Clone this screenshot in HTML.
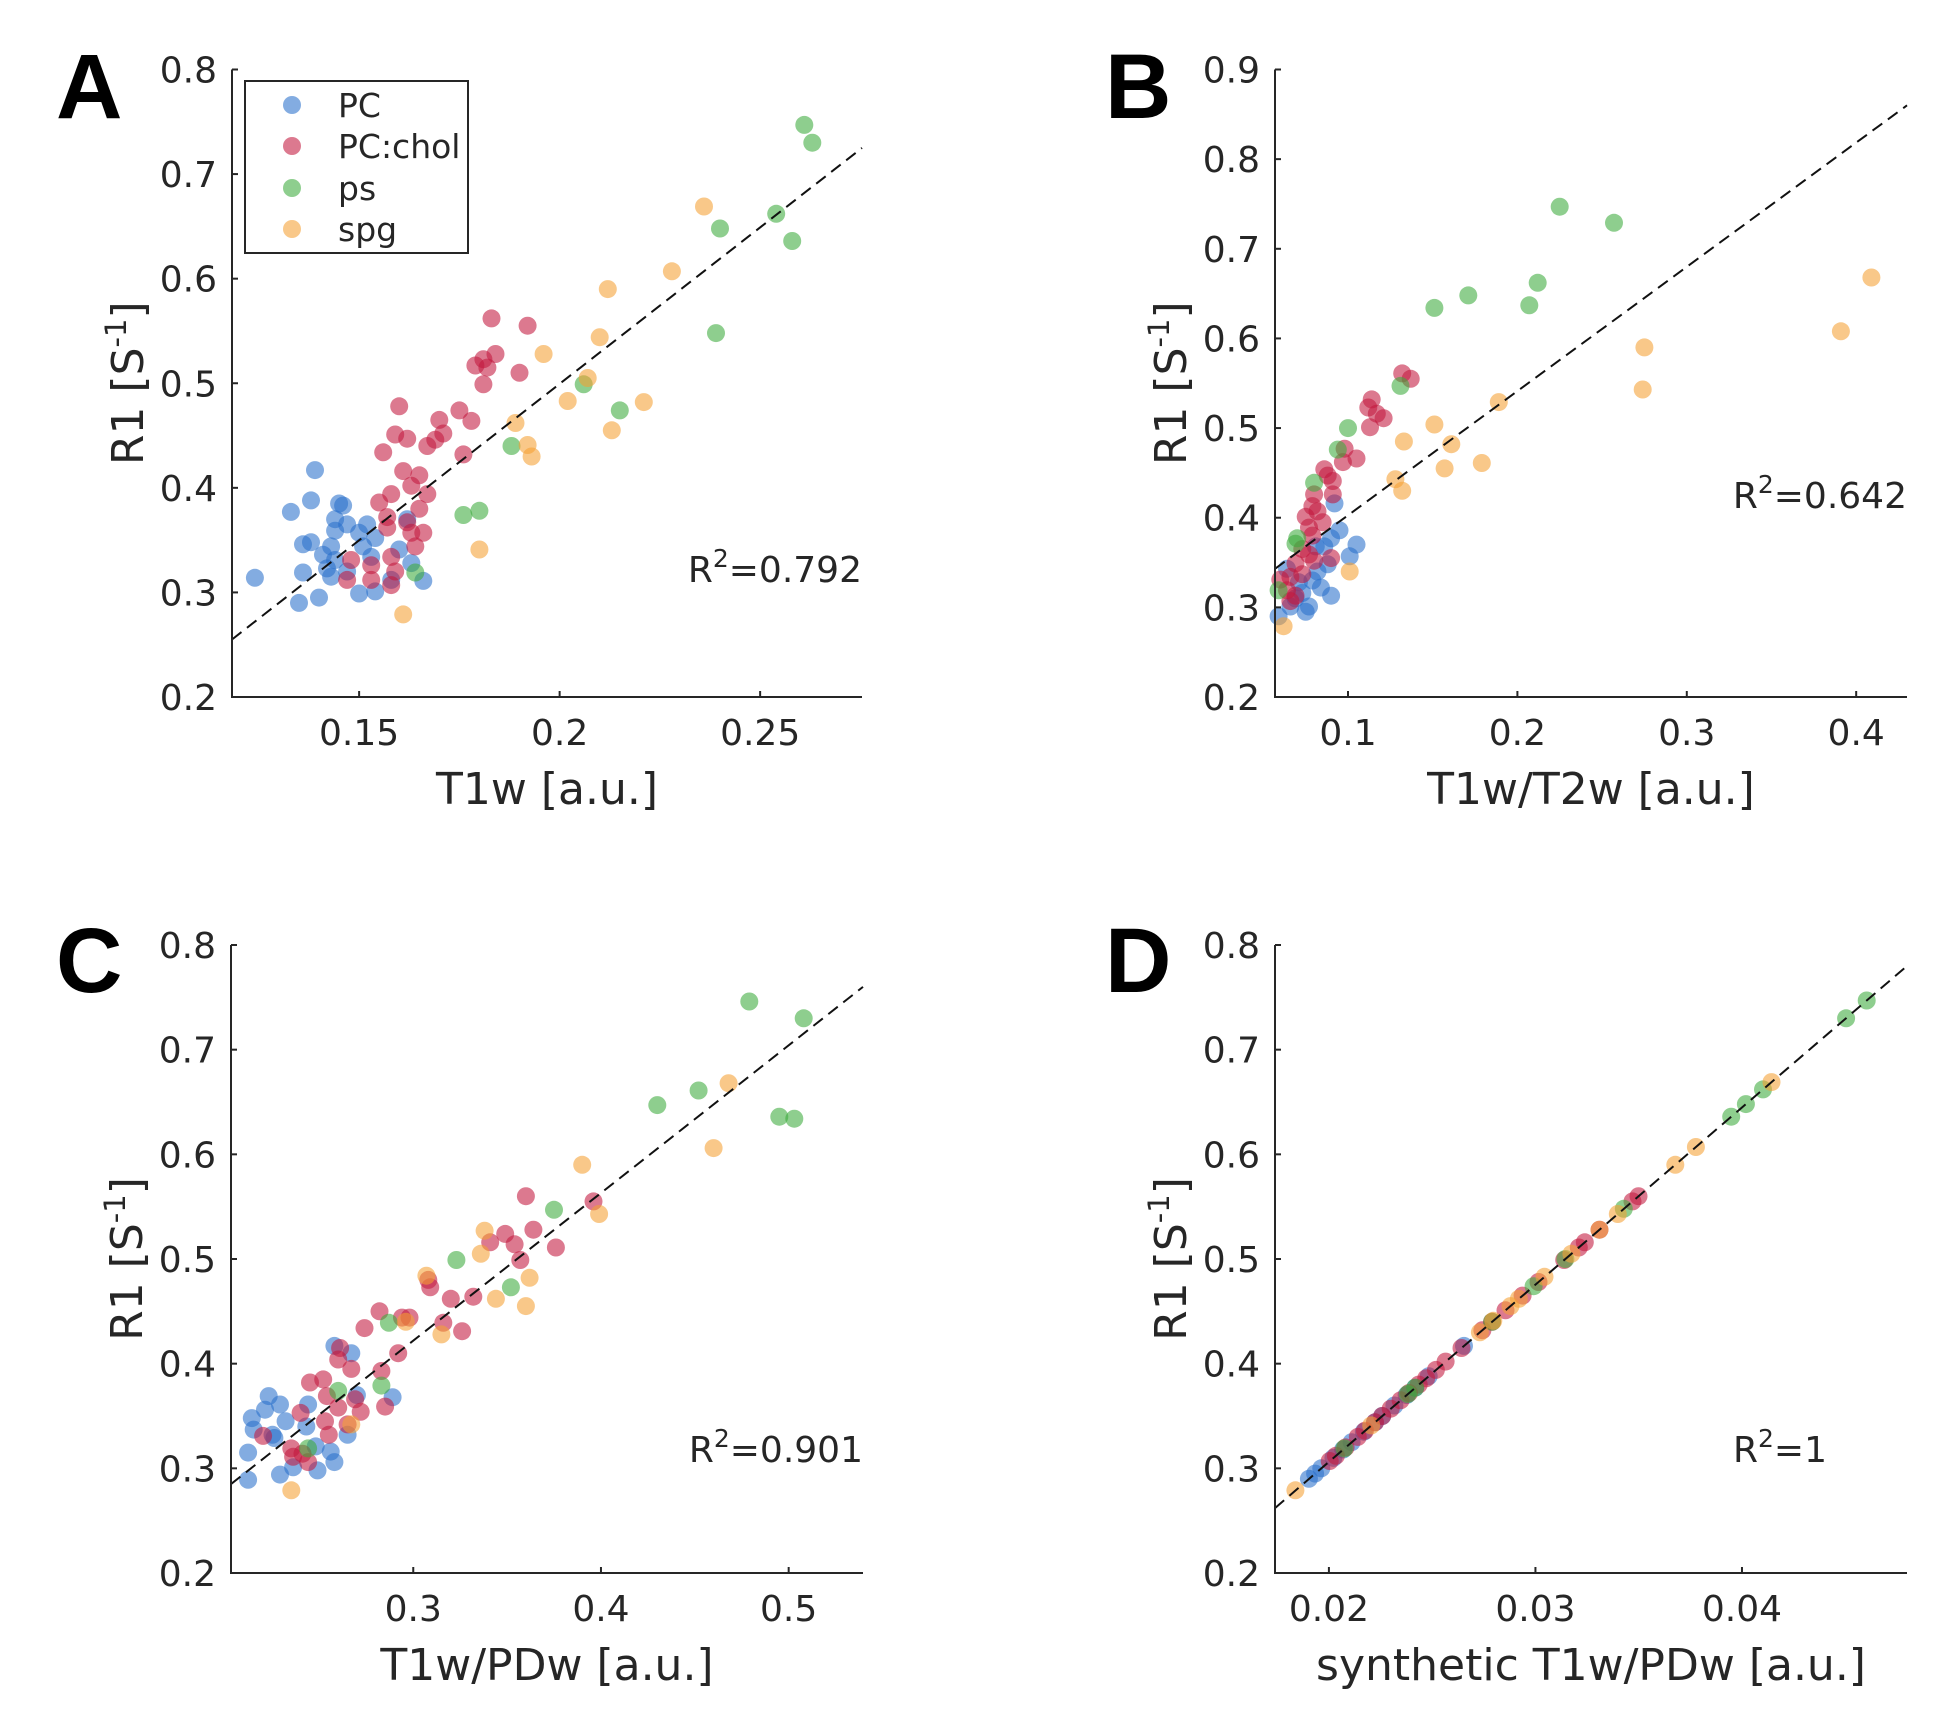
<!DOCTYPE html>
<html><head><meta charset="utf-8"><title>R1 scatter panels</title>
<style>
html,body{margin:0;padding:0;background:#fff;}
svg{display:block;}
text{font-family:"DejaVu Sans","Liberation Sans",sans-serif;fill:#262626;}
.lbl{font-family:"Liberation Sans",Arial,sans-serif;font-weight:bold;fill:#000;}
</style></head>
<body>
<svg id="fig" width="1947" height="1716" viewBox="0 0 1947 1716" xmlns="http://www.w3.org/2000/svg"></svg>
<script>
// ---------- Panel A data (T1w) ----------
const aPCx=[0.139,0.138,0.133,0.145,0.146,0.144,0.147,0.144,0.136,0.138,0.152,0.150,0.154,0.151,0.143,0.141,0.144,0.142,0.143,0.147,0.136,0.124,0.135,0.140,0.150,0.154,0.158,0.163,0.166,0.160,0.162,0.153];
const aPCy=[0.417,0.388,0.377,0.385,0.383,0.370,0.365,0.359,0.346,0.348,0.365,0.357,0.352,0.344,0.344,0.336,0.331,0.323,0.315,0.320,0.319,0.314,0.290,0.295,0.299,0.301,0.312,0.328,0.311,0.341,0.370,0.334];
const aCHx=[0.183,0.192,0.184,0.181,0.179,0.182,0.190,0.181,0.160,0.175,0.170,0.178,0.159,0.162,0.171,0.169,0.167,0.156,0.176,0.161,0.165,0.163,0.167,0.158,0.155,0.165,0.157,0.162,0.157,0.163,0.166,0.164,0.148,0.153,0.147,0.153,0.158,0.158,0.159];
const aCHy=[0.562,0.555,0.528,0.523,0.517,0.515,0.510,0.499,0.478,0.474,0.465,0.464,0.451,0.447,0.452,0.446,0.440,0.434,0.432,0.416,0.412,0.402,0.394,0.394,0.386,0.380,0.372,0.367,0.362,0.357,0.357,0.344,0.331,0.326,0.312,0.312,0.307,0.334,0.320];
const aPSx=[0.261,0.263,0.240,0.254,0.258,0.239,0.215,0.206,0.188,0.176,0.180,0.164];
const aPSy=[0.747,0.730,0.648,0.662,0.636,0.548,0.474,0.499,0.440,0.374,0.378,0.319];
const aSPx=[0.236,0.228,0.212,0.210,0.196,0.207,0.202,0.221,0.213,0.189,0.192,0.193,0.180,0.161];
const aSPy=[0.669,0.607,0.590,0.544,0.528,0.505,0.483,0.482,0.455,0.462,0.441,0.430,0.341,0.279];
const aFitX=[0.1183,0.2754];
const aFitY=[0.255,0.725];
const aXTicks=[0.15,0.2,0.25];
const aXTickLabels=["0.15","0.2","0.25"];
const aYTicks=[0.2,0.3,0.4,0.5,0.6,0.7,0.8];
const aYTickLabels=["0.2","0.3","0.4","0.5","0.6","0.7","0.8"];

// ---------- Panel B data (T1w/T2w) ----------
const bPCx=[0.092,0.095,0.090,0.105,0.101,0.088,0.082,0.079,0.084,0.090,0.073,0.069,0.066,0.059,0.077,0.071,0.064,0.081,0.086,0.075];
const bPCy=[0.416,0.386,0.377,0.370,0.357,0.348,0.340,0.330,0.322,0.313,0.316,0.310,0.301,0.290,0.301,0.328,0.343,0.368,0.368,0.295];
const bCHx=[0.132,0.137,0.114,0.112,0.117,0.121,0.113,0.098,0.105,0.097,0.086,0.091,0.088,0.080,0.091,0.079,0.082,0.075,0.085,0.077,0.079,0.073,0.077,0.069,0.090,0.066,0.060,0.064,0.069,0.066,0.073,0.080];
const bCHy=[0.561,0.555,0.532,0.523,0.516,0.511,0.501,0.477,0.466,0.462,0.454,0.441,0.447,0.426,0.426,0.413,0.407,0.401,0.395,0.389,0.380,0.365,0.359,0.349,0.355,0.334,0.331,0.319,0.313,0.307,0.337,0.352];
const bPSx=[0.225,0.257,0.212,0.207,0.171,0.151,0.131,0.100,0.094,0.080,0.070,0.069,0.059];
const bPSy=[0.747,0.729,0.662,0.637,0.648,0.634,0.547,0.500,0.476,0.439,0.377,0.371,0.319];
const bSPx=[0.409,0.391,0.275,0.274,0.189,0.151,0.133,0.161,0.179,0.157,0.128,0.132,0.101,0.062];
const bSPy=[0.668,0.608,0.590,0.543,0.529,0.504,0.485,0.482,0.461,0.455,0.443,0.430,0.340,0.279];
const bFitX=[0.0569,0.430];
const bFitY=[0.343,0.860];
const bXTicks=[0.1,0.2,0.3,0.4];
const bXTickLabels=["0.1","0.2","0.3","0.4"];
const bYTicks=[0.2,0.3,0.4,0.5,0.6,0.7,0.8,0.9];
const bYTickLabels=["0.2","0.3","0.4","0.5","0.6","0.7","0.8","0.9"];

// ---------- Panel C data (T1w/PDw) ----------
const cPCx=[0.258,0.223,0.229,0.221,0.214,0.232,0.215,0.225,0.244,0.243,0.248,0.256,0.258,0.212,0.212,0.229,0.236,0.249,0.265,0.270,0.289,0.267,0.226];
const cPCy=[0.417,0.369,0.361,0.356,0.348,0.345,0.337,0.332,0.361,0.340,0.321,0.316,0.306,0.315,0.289,0.294,0.301,0.298,0.332,0.370,0.368,0.410,0.329];
const cCHx=[0.360,0.396,0.364,0.349,0.341,0.354,0.376,0.357,0.308,0.309,0.320,0.332,0.282,0.294,0.298,0.316,0.274,0.326,0.292,0.261,0.260,0.267,0.283,0.252,0.245,0.254,0.269,0.260,0.272,0.285,0.253,0.265,0.220,0.240,0.235,0.241,0.236,0.244,0.255];
const cCHy=[0.560,0.555,0.528,0.524,0.516,0.514,0.511,0.499,0.480,0.473,0.462,0.464,0.450,0.444,0.444,0.439,0.434,0.431,0.410,0.415,0.404,0.395,0.393,0.385,0.382,0.369,0.366,0.358,0.354,0.359,0.345,0.342,0.331,0.353,0.319,0.314,0.311,0.306,0.332];
const cPSx=[0.479,0.508,0.452,0.430,0.495,0.503,0.375,0.323,0.352,0.287,0.260,0.283,0.244];
const cPSy=[0.746,0.730,0.661,0.647,0.636,0.634,0.547,0.499,0.473,0.439,0.374,0.379,0.319];
const cSPx=[0.468,0.460,0.390,0.399,0.338,0.336,0.307,0.362,0.344,0.360,0.296,0.315,0.267,0.235];
const cSPy=[0.668,0.606,0.590,0.543,0.527,0.505,0.484,0.482,0.462,0.455,0.440,0.428,0.342,0.279];
const cFitX=[0.2029,0.5396];
const cFitY=[0.285,0.760];
const cXTicks=[0.3,0.4,0.5];
const cXTickLabels=["0.3","0.4","0.5"];
const cYTicks=[0.2,0.3,0.4,0.5,0.6,0.7,0.8];
const cYTickLabels=["0.2","0.3","0.4","0.5","0.6","0.7","0.8"];

// ---------- Panel D data (synthetic T1w/PDw) ----------
const dPCx=[0.02654,0.02483,0.02418,0.02376,0.02317,0.02258,0.02223,0.02169,0.02110,0.02069,0.02022,0.01963,0.01933,0.01903];
const dPCy=[0.417,0.388,0.377,0.370,0.360,0.350,0.344,0.335,0.325,0.318,0.310,0.300,0.295,0.290];
const dCHx=[0.03499,0.03470,0.03310,0.03239,0.03210,0.03139,0.03015,0.02938,0.02855,0.02790,0.02743,0.02642,0.02565,0.02518,0.02471,0.02435,0.02388,0.02347,0.02299,0.02258,0.02223,0.02175,0.02140,0.02081,0.02034,0.02004];
const dCHy=[0.560,0.555,0.528,0.516,0.511,0.499,0.478,0.465,0.451,0.440,0.432,0.415,0.402,0.394,0.386,0.380,0.372,0.365,0.357,0.350,0.344,0.336,0.330,0.320,0.312,0.307];
const dPSx=[0.04604,0.04504,0.04102,0.04019,0.03948,0.03428,0.03145,0.02991,0.02790,0.02418,0.02382,0.02075];
const dPSy=[0.747,0.730,0.662,0.648,0.636,0.548,0.500,0.474,0.440,0.377,0.371,0.319];
const dSPx=[0.04143,0.03777,0.03677,0.03399,0.03310,0.03174,0.03044,0.02920,0.02879,0.02796,0.02731,0.02205,0.01838];
const dSPy=[0.669,0.607,0.590,0.543,0.528,0.505,0.483,0.462,0.455,0.441,0.430,0.341,0.279];
const dFitX=[0.01739,0.04799];
const dFitY=[0.262,0.780];
const dXTicks=[0.02,0.03,0.04];
const dXTickLabels=["0.02","0.03","0.04"];
const dYTicks=[0.2,0.3,0.4,0.5,0.6,0.7,0.8];
const dYTickLabels=["0.2","0.3","0.4","0.5","0.6","0.7","0.8"];

const groupNames=["PC","PC:chol","ps","spg"];
const groupKeys=["pc","pc-chol","ps","spg"];
const groupColors=["#2a70cc","#c2183e","#3caa3c","#f5a033"];

const NS="http://www.w3.org/2000/svg";
const svg=document.getElementById("fig");
function el(tag,attrs,parent){const e=document.createElementNS(NS,tag);for(const k in attrs)e.setAttribute(k,attrs[k]);(parent||svg).appendChild(e);return e;}

function drawPanel(p){
  const g=el("g",{});
  
  
  const sx=v=>p.px[0]+(v-p.xd[0])/(p.xd[1]-p.xd[0])*(p.px[1]-p.px[0]);
  const sy=v=>p.py[0]+(v-p.yd[0])/(p.yd[1]-p.yd[0])*(p.py[1]-p.py[0]);
  const L=el("text",{x:p.lx,y:p.ly,"font-size":92,class:"lbl"},g);L.textContent=p.id.toUpperCase();
  
  
  for(let s=0;s<4;s++){
    const xs=p.series[s][0],ys=p.series[s][1];
    for(let i=0;i<xs.length;i++){
      const c=el("circle",{cx:sx(xs[i]).toFixed(1),cy:sy(ys[i]).toFixed(1),r:9,fill:groupColors[s],"fill-opacity":0.58},g);
      
      
    }
  }
  const fl=el("line",{x1:sx(p.fitX[0]),y1:sy(p.fitY[0]),x2:sx(p.fitX[1]),y2:sy(p.fitY[1]),stroke:"#111","stroke-width":2,"stroke-dasharray":"12,7"},g);
  
  
  const ax=el("path",{d:`M${p.px[0]},${p.py[1]} V${p.py[0]} H${p.px[1]}`,fill:"none",stroke:"#262626","stroke-width":2},g);
  
  
  p.xt.forEach((v,i)=>{
    const x=sx(v);
    el("line",{x1:x,y1:p.py[0],x2:x,y2:p.py[0]-6,stroke:"#262626","stroke-width":2},g);
    const t=el("text",{x:x,y:p.py[0]+48,"font-size":36,"text-anchor":"middle"},g);t.textContent=p.xtl[i];
    
    
  });
  p.yt.forEach((v,i)=>{
    const y=sy(v);
    el("line",{x1:p.px[0],y1:y,x2:p.px[0]+6,y2:y,stroke:"#262626","stroke-width":2},g);
    const t=el("text",{x:p.px[0]-15,y:y+13,"font-size":36,"text-anchor":"end"},g);t.textContent=p.ytl[i];
    
    
  });
  const xl=el("text",{x:(p.px[0]+p.px[1])/2,y:p.py[0]+107,"font-size":44,"text-anchor":"middle"},g);xl.textContent=p.xlabel;
  
  
  const cy=(p.py[0]+p.py[1])/2, yx=p.px[0]-89;
  const yl=el("text",{x:yx,y:cy,"font-size":44,"text-anchor":"middle",transform:`rotate(-90 ${yx} ${cy})`},g);
  yl.innerHTML='R1 [S<tspan dy="-17" font-size="29">-1</tspan><tspan dy="17">]</tspan>';
  
  
  const r=el("text",{x:p.rx,y:p.ry,"font-size":36,"text-anchor":"end"},g);
  r.innerHTML='R<tspan dy="-15" font-size="25">2</tspan><tspan dy="15">='+p.r2+'</tspan>';
  
  
}

drawPanel({id:"a",xd:[0.1183,0.2754],px:[232,862],yd:[0.2,0.8],py:[697,69.5],lx:56,ly:118,
  series:[[aPCx,aPCy],[aCHx,aCHy],[aPSx,aPSy],[aSPx,aSPy]],fitX:aFitX,fitY:aFitY,
  xt:aXTicks,xtl:aXTickLabels,yt:aYTicks,ytl:aYTickLabels,xlabel:"T1w [a.u.]",rx:862,ry:582,r2:"0.792"});
drawPanel({id:"b",xd:[0.0569,0.430],px:[1275,1907],yd:[0.2,0.9],py:[697,69.5],lx:1105,ly:118,
  series:[[bPCx,bPCy],[bCHx,bCHy],[bPSx,bPSy],[bSPx,bSPy]],fitX:bFitX,fitY:bFitY,
  xt:bXTicks,xtl:bXTickLabels,yt:bYTicks,ytl:bYTickLabels,xlabel:"T1w/T2w [a.u.]",rx:1907,ry:508,r2:"0.642"});
drawPanel({id:"c",xd:[0.2029,0.5396],px:[231,863],yd:[0.2,0.8],py:[1573,945],lx:56,ly:992,
  series:[[cPCx,cPCy],[cCHx,cCHy],[cPSx,cPSy],[cSPx,cSPy]],fitX:cFitX,fitY:cFitY,
  xt:cXTicks,xtl:cXTickLabels,yt:cYTicks,ytl:cYTickLabels,xlabel:"T1w/PDw [a.u.]",rx:863,ry:1462,r2:"0.901"});
drawPanel({id:"d",xd:[0.01739,0.04799],px:[1275,1907],yd:[0.2,0.8],py:[1573,945],lx:1105,ly:992,
  series:[[dPCx,dPCy],[dCHx,dCHy],[dPSx,dPSy],[dSPx,dSPy]],fitX:dFitX,fitY:dFitY,
  xt:dXTicks,xtl:dXTickLabels,yt:dYTicks,ytl:dYTickLabels,xlabel:"synthetic T1w/PDw [a.u.]",rx:1827,ry:1462,r2:"1"});

const lg=el("g",{});


el("rect",{x:245,y:81,width:223,height:172,fill:"#fff",stroke:"#262626","stroke-width":2},lg);
const rowY=[105,146,188,229];
for(let s=0;s<4;s++){
  const c=el("circle",{cx:292,cy:rowY[s],r:9,fill:groupColors[s],"fill-opacity":0.58},lg);
  
  
  const t=el("text",{x:338,y:rowY[s]+12,"font-size":33},lg);t.textContent=groupNames[s];
  
  
}
</script>
</body></html>
